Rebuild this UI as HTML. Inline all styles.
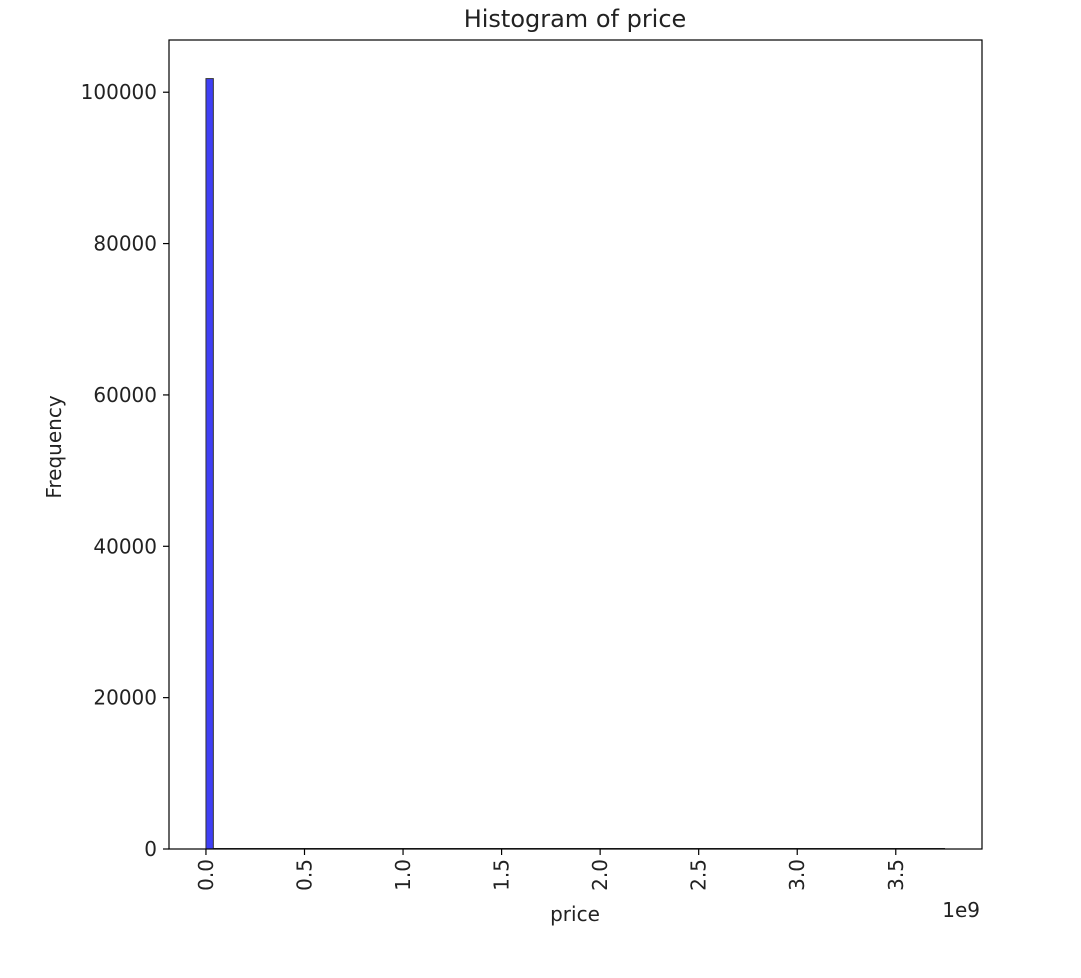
<!DOCTYPE html>
<html><head><meta charset="utf-8"><style>
body{margin:0;background:#fff;font-family:"Liberation Sans","DejaVu Sans",sans-serif;}
</style></head><body>
<svg id="chart" width="1081" height="973" xmlns="http://www.w3.org/2000/svg" font-family="DejaVu Sans, Liberation Sans, sans-serif">
<rect width="1081" height="973" fill="#fff"/>
<text x="575" y="27" text-anchor="middle" font-size="24" fill="#222">Histogram of price</text>
<g id="marks"></g>
<rect x="169" y="40" width="813" height="809" fill="none" stroke="#000" stroke-width="1.2"/>
<g id="axes"></g>
<text x="575" y="921" text-anchor="middle" font-size="20" fill="#222">price</text>
<text x="980" y="917" text-anchor="end" font-size="20" fill="#222">1e9</text>
<text transform="translate(61,447) rotate(-90)" text-anchor="middle" font-size="20" fill="#222">Frequency</text>
</svg>
<script>
const binStart = 0;          // in units of 1e9
const binWidth = 0.0375;     // in units of 1e9
const counts = [101800, 3, 1, 1, 0, 0, 1, 0, 0, 0];
const xTicks = [0, 0.5, 1.0, 1.5, 2.0, 2.5, 3.0, 3.5];
const xTickLabels = ["0.0","0.5","1.0","1.5","2.0","2.5","3.0","3.5"];
const yTicks = [0, 20000, 40000, 60000, 80000, 100000];
const xMaxData = 3.75;

const L=169,R=982,T=40,B=849;
const xMin=-0.1875, xMax=3.9375, yMax=106900;
const xs=v=>L+(v-xMin)/(xMax-xMin)*(R-L);
const ys=v=>B-v/yMax*(B-T);
const ns="http://www.w3.org/2000/svg";
const marks=document.getElementById('marks'), axes=document.getElementById('axes');
function mk(tag,attrs,parent){const e=document.createElementNS(ns,tag);for(const k in attrs)e.setAttribute(k,attrs[k]);parent.appendChild(e);return e;}
const base=mk('line',{x1:xs(binStart),x2:xs(xMaxData),y1:B-0.5,y2:B-0.5,stroke:'#333','stroke-width':1},marks);


counts.forEach((c,i)=>{
  const x0=xs(binStart+i*binWidth), x1=xs(binStart+(i+1)*binWidth);
  const r=mk('rect',{x:x0,y:ys(c),width:x1-x0,height:B-ys(c),fill:'#3f3ff5',stroke:'#333','stroke-width':1},marks);
  
  
});
xTicks.forEach((v,i)=>{
  const x=xs(v);
  const t=mk('line',{x1:x,x2:x,y1:B,y2:B+6,stroke:'#000','stroke-width':1.2},axes);
  
  
  const tx=mk('text',{transform:`translate(${x+7},${B+10}) rotate(-90)`,'text-anchor':'end','font-size':20,fill:'#222'},axes);
  tx.textContent=xTickLabels[i];
  
  
});
yTicks.forEach(v=>{
  const y=ys(v);
  const t=mk('line',{x1:L-6,x2:L,y1:y,y2:y,stroke:'#000','stroke-width':1.2},axes);
  
  
  const tx=mk('text',{x:L-12,y:y+7,'text-anchor':'end','font-size':20,fill:'#222'},axes);
  tx.textContent=String(v);
  
  
});
</script>
</body></html>
